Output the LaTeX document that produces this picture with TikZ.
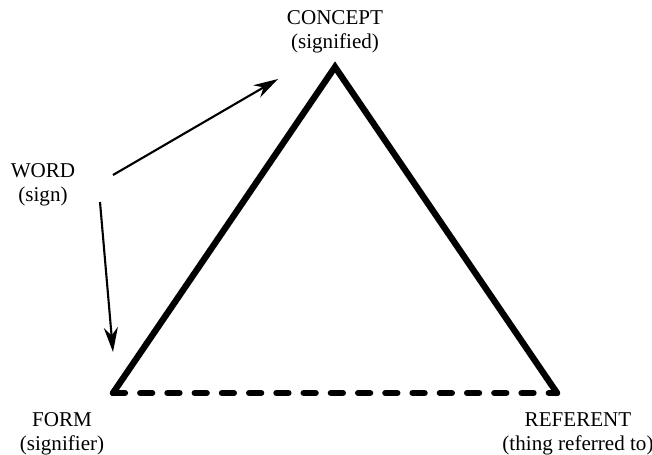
\documentclass[tikz,border=0pt]{standalone}
\usepackage{fontspec}
\setmainfont{Liberation Serif}
\usepackage{xcolor}
\usepackage{tkz-base}
\usepackage{tkz-euclide}
\usetikzlibrary{arrows.meta}

\tikzset{
  etiqueta/.style={align=center, inner sep=0pt, font=\fontsize{12}{13.8}\selectfont},
  lado/.style={line width=3.6pt, line join=miter},
  flecha/.style={line width=1.2pt, -{Stealth[length=14pt, width=8pt]}}
}

\begin{document}
\begin{tikzpicture}
        \useasboundingbox (0,0) rectangle (13.04,9.08);

        % Paso 1: Define los vértices del triángulo CFR.
        \tkzDefPoint(6.70,7.74){C}
        \tkzDefPoint(2.26,1.22){F}
        \tkzDefPoint(11.14,1.22){R}

        % Paso 2: Define los extremos de las dos flechas
        \tkzDefPoint(2.26,5.58){A}
        \tkzDefPoint(5.56,7.50){B}
        \tkzDefPoint(2.00,5.04){D}
        \tkzDefPoint(2.26,2.04){E}

        % Paso 3: Dibuja los lados FC y CR
        \tkzDrawPolySeg[lado](F,C,R)

        % Paso 4: Dibuja la base FR con trazos
        \tkzDrawSegment[line width=3.6pt, dash pattern=on 6.8pt off 8.7pt](F,R)

        % Paso 5: Escribe las etiquetas
        \node[etiqueta] (concept) at (6.70,8.44) {CONCEPT\\(signified)};
        \node[etiqueta] (word) at (0.86,5.38) {WORD\\(sign)};
        \node[etiqueta] (form) at (1.24,0.40) {FORM\\(signifier)};
        \node[etiqueta] (referent) at (11.56,0.40) {REFERENT\\(thing referred to)};

        % Paso 6: Dibuja las flechas desde WORD
        \draw[flecha] (A) -- (B);
        \draw[flecha] (D) -- (E);
    \end{tikzpicture}
\end{document}
